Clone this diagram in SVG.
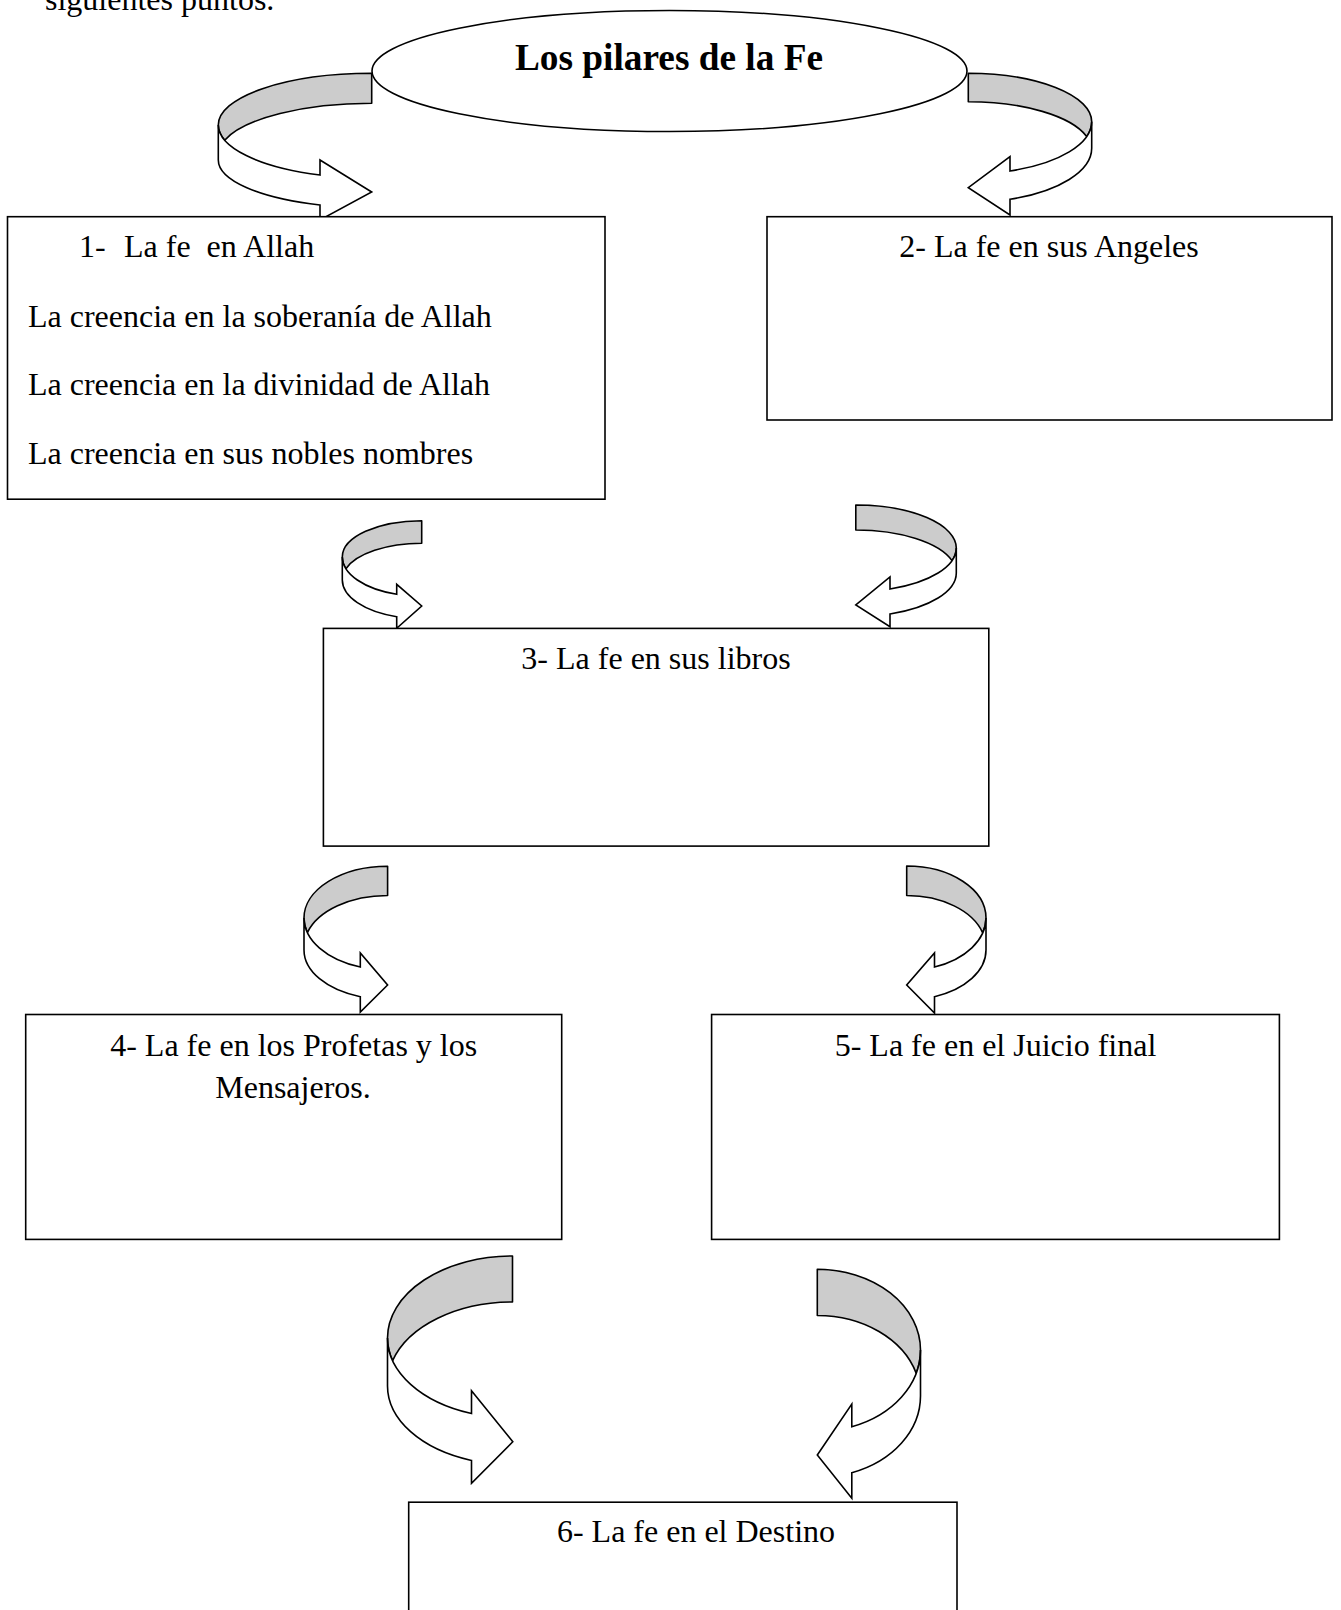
<svg xmlns="http://www.w3.org/2000/svg" width="1341" height="1610" viewBox="0 0 1341 1610">
<style>
  .bg{fill:#ffffff}
  .box{fill:#ffffff;stroke:#000000;stroke-width:1.6}
  .t{font-family:"Liberation Serif","Times New Roman",serif;font-size:32px;fill:#000000}
  .c{text-anchor:middle}
  .title{font-family:"Liberation Serif","Times New Roman",serif;font-size:37.3px;font-weight:bold;text-anchor:middle;fill:#000000}
  .back{fill:#cccccc;stroke:#000000;stroke-width:1.6;stroke-linejoin:round}
  .front{fill:#ffffff;stroke:#000000;stroke-width:1.6;stroke-linejoin:miter}
</style>
<rect class="bg" x="0" y="0" width="1341" height="1610"/>
<text class="t" x="45" y="9.5">siguientes puntos.</text>

<g id="connectors">
  <g id="arrow1">
    <path class="back" d="M371.7,73.3 A153.4,51.7 0 0 0 218.3,125 A153.4,53.1 0 0 0 224.7,140.2 A153.4,51.7 0 0 1 371.7,103.3 Z"/>
    <path class="front" d="M218.3,125 A153.4,53.1 0 0 0 320,175 L320,160 L371.7,192 L320,220 L320,205 A153.4,47.8 0 0 1 218.3,160 Z"/>
  </g>
  <g id="arrow2">
    <path class="back" d="M968.3,73.3 A123.4,48.4 0 0 1 1091.7,121.7 A123.4,52.4 0 0 1 1086.7,136.5 A123.4,48.4 0 0 0 968.3,101.7 Z"/>
    <path class="front" d="M1091.7,121.7 A123.4,52.4 0 0 1 1010,171 L1010,156.7 L968.3,187.7 L1010,215 L1010,199.3 A123.4,54.2 0 0 0 1091.7,148.3 Z"/>
  </g>
  <g id="arrow3">
    <path class="back" d="M421.7,520.7 A79.4,36.3 0 0 0 342.3,557 A79.4,39.3 0 0 0 345.9,568.8 A79.4,36.3 0 0 1 421.7,543.3 Z"/>
    <path class="front" d="M342.3,557 A79.4,39.3 0 0 0 396.7,594.3 L396.7,584.3 L421.7,606 L396.7,628.3 L396.7,616.7 A79.4,38.7 0 0 1 342.3,580 Z"/>
  </g>
  <g id="arrow4">
    <path class="back" d="M855.8,505 A100.5,43 0 0 1 956.3,548 A100.5,43.6 0 0 1 952,560.6 A100.5,43 0 0 0 855.8,530 Z"/>
    <path class="front" d="M956.3,548 A100.5,43.6 0 0 1 890,589 L890,577 L855.8,605 L890,626.7 L890,614 A100.5,43.6 0 0 0 956.3,573 Z"/>
  </g>
  <g id="arrow5">
    <path class="back" d="M387.6,866.3 A83.6,51.7 0 0 0 304,918 A83.6,51.9 0 0 0 307.4,932.6 A83.6,51.7 0 0 1 387.6,895.5 Z"/>
    <path class="front" d="M304,918 A83.6,51.9 0 0 0 360.3,967 L360.3,953 L387.6,985 L360.3,1012 L360.3,996.7 A83.6,49.4 0 0 1 304,950 Z"/>
  </g>
  <g id="arrow6">
    <path class="back" d="M906.7,866 A79.3,52 0 0 1 986,918 A79.3,52.3 0 0 1 982.7,932.8 A79.3,52 0 0 0 906.7,895.5 Z"/>
    <path class="front" d="M986,918 A79.3,52.3 0 0 1 934.5,967 L934.5,953 L906.7,985 L934.5,1013 L934.5,996.7 A79.3,49.8 0 0 0 986,950 Z"/>
  </g>
  <g id="arrow7">
    <path class="back" d="M512.5,1256 A125,82 0 0 0 387.5,1338 A125,79.9 0 0 0 392.6,1360.7 A125,82 0 0 1 512.5,1302 Z"/>
    <path class="front" d="M387.5,1338 A125,79.9 0 0 0 471.5,1413.5 L471.5,1390.7 L512.8,1441.7 L471.5,1483.3 L471.5,1460.5 A125,78.8 0 0 1 387.5,1386 Z"/>
  </g>
  <g id="arrow8">
    <path class="back" d="M817.3,1269.3 A103.2,80.7 0 0 1 920.5,1350 A103.2,81.4 0 0 1 916.2,1373.2 A103.2,80.7 0 0 0 817.3,1315.5 Z"/>
    <path class="front" d="M920.5,1350 A103.2,81.4 0 0 1 851.8,1426.7 L851.8,1404 L817.3,1455 L851.8,1498.3 L851.8,1472.7 A103.2,81.4 0 0 0 920.5,1396 Z"/>
  </g>
</g>

<g id="title">
  <ellipse cx="669.5" cy="71" rx="297.5" ry="60.5" fill="#ffffff" stroke="#000000" stroke-width="1.6"/>
  <text class="title" x="669" y="70">Los pilares de la Fe</text>
</g>

<g id="node1">
  <rect class="box" x="7.5" y="216.7" width="597.5" height="282.5"/>
  <text class="t" x="79" y="257">1-</text>
  <text class="t" x="124" y="257" xml:space="preserve">La fe  en Allah</text>
  <text class="t" x="28" y="326.5">La creencia en la soberanía de Allah</text>
  <text class="t" x="28" y="395.3">La creencia en la divinidad de Allah</text>
  <text class="t" x="28" y="464">La creencia en sus nobles nombres</text>
</g>
<g id="node2">
  <rect class="box" x="767" y="216.7" width="565" height="203.3"/>
  <text class="t c" x="1049" y="257">2- La fe en sus Angeles</text>
</g>
<g id="node3">
  <rect class="box" x="323.4" y="628.4" width="665.4" height="217.7"/>
  <text class="t c" x="656" y="668.5">3- La fe en sus libros</text>
</g>
<g id="node4">
  <rect class="box" x="25.7" y="1014.5" width="536" height="224.9"/>
  <text class="t c" x="293.7" y="1055.5">4- La fe en los Profetas y los</text>
  <text class="t c" x="293" y="1097.6">Mensajeros.</text>
</g>
<g id="node5">
  <rect class="box" x="711.6" y="1014.5" width="567.8" height="224.9"/>
  <text class="t c" x="995.5" y="1055.5">5- La fe en el Juicio final</text>
</g>
<g id="node6">
  <rect class="box" x="408.7" y="1502.2" width="548.3" height="130"/>
  <text class="t c" x="696" y="1542.3">6- La fe en el Destino</text>
</g>
</svg>
